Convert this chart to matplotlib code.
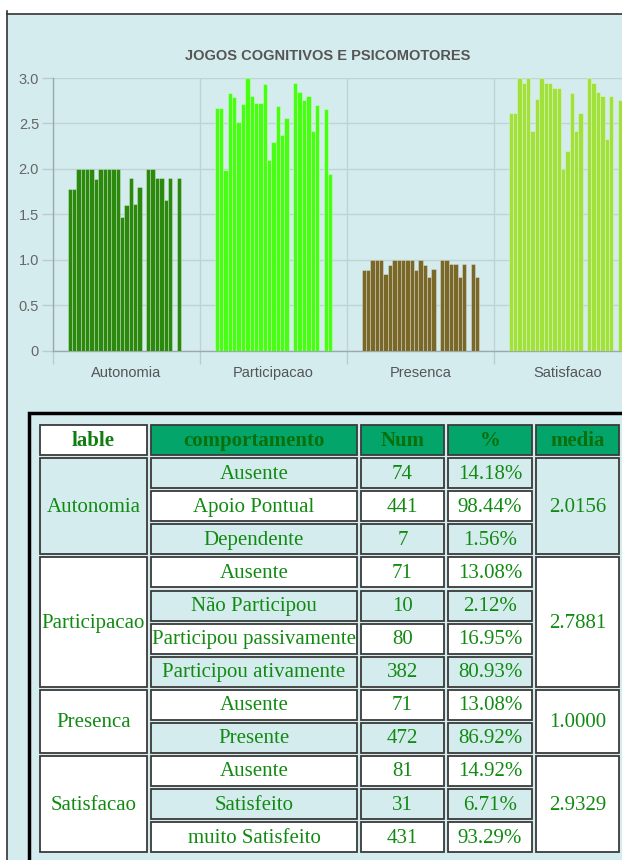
import matplotlib
matplotlib.use('Agg')
import matplotlib.pyplot as plt
from matplotlib.patches import Rectangle
from matplotlib.ticker import FixedLocator

# chart data: one bar per session inside each behaviour group (0 = no value)
categories = ['Autonomia', 'Participacao', 'Presenca', 'Satisfacao']
autonomia = [1.78, 1.78, 2.0, 2.0, 2.0, 2.0, 1.89, 2.0, 2.0, 2.0, 2.0, 2.0, 1.47, 1.6,
             1.9, 1.61, 1.8, 0, 2.0, 2.0, 1.9, 1.9, 1.66, 1.9, 0, 1.9, 0]
participacao = [2.67, 2.67, 1.99, 2.84, 2.79, 2.52, 2.71, 3.0, 2.8, 2.73, 2.73, 2.93, 2.1, 2.29,
                2.69, 2.37, 2.56, 0, 2.94, 2.85, 2.76, 2.8, 2.42, 2.7, 0, 2.66, 1.94]
presenca = [0.89, 0.89, 1.0, 1.0, 1.0, 0.84, 0.94, 1.0, 1.0, 1.0, 1.0, 1.0, 0.89, 1.0,
            0.94, 0.81, 0.9, 0, 1.0, 1.0, 0.95, 0.95, 0.81, 0.95, 0, 0.95, 0.81]
satisfacao = [2.62, 2.62, 3.0, 2.94, 3.0, 2.42, 2.77, 3.0, 2.94, 2.94, 2.89, 2.89, 2.0, 2.2,
              2.84, 2.42, 2.61, 0, 3.0, 2.94, 2.85, 2.8, 2.33, 2.8, 0, 2.76, 2.6]
series = [autonomia, participacao, presenca, satisfacao]
bar_colors = ['#2b8a0e', '#47ff12', '#7a6829', '#a1e13b']
y_ticks = [0, 0.5, 1.0, 1.5, 2.0, 2.5, 3.0]
y_labels = ['0', '0.5', '1.0', '1.5', '2.0', '2.5', '3.0']

# table data
header = ['lable', 'comportamento', 'Num', '%', 'media']
behaviours = [['Ausente', 'Apoio Pontual', 'Dependente'],
              ['Ausente', 'Não Participou', 'Participou passivamente', 'Participou ativamente'],
              ['Ausente', 'Presente'],
              ['Ausente', 'Satisfeito', 'muito Satisfeito']]
counts = [[74, 441, 7], [71, 10, 80, 382], [71, 472], [81, 31, 431]]
percents = [['14.18%', '98.44%', '1.56%'],
            ['13.08%', '2.12%', '16.95%', '80.93%'],
            ['13.08%', '86.92%'],
            ['14.92%', '6.71%', '93.29%']]
medias = ['2.0156', '2.7881', '1.0000', '2.9329']

W, H = 622, 860
CYAN = '#d5ecee'
fig = plt.figure(figsize=(W / 100, H / 100), dpi=100, facecolor='white')

# page layer in pixel coordinates
bg = fig.add_axes([0, 0, 1, 1])
bg.set_xlim(0, W)
bg.set_ylim(H, 0)
bg.axis('off')
bg.add_patch(Rectangle((7, 14), W, H, facecolor=CYAN, edgecolor='none'))
bg.plot([7, W], [14, 14], color='#333333', lw=1.2)
bg.plot([7, 7], [11, H], color='#333333', lw=1.2)

fig.text(328 / W, 1 - 56 / H, 'JOGOS COGNITIVOS E PSICOMOTORES', ha='center', va='center',
         fontsize=10.5, fontweight='bold', color='#555555', family='Liberation Sans')

# chart
ax = fig.add_axes([53 / W, 1 - 350.5 / H, 588 / W, 272.5 / H])
ax.set_facecolor('none')
n = len(autonomia)
slot = 0.8 / n
for k, vals in enumerate(series):
    xs = [k - 0.4 + (j + 0.5) * slot for j in range(n)]
    ax.bar(xs, vals, width=slot, color=bar_colors[k], edgecolor=(1, 1, 1, 0.35),
           linewidth=0.6, zorder=3)
ax.set_xlim(-0.5, len(categories) - 0.5)
ax.set_ylim(0, 3.0)
ax.set_yticks(y_ticks)
ax.set_yticklabels(y_labels)
ax.set_xticks(range(len(categories)))
ax.set_xticklabels(categories)
ax.xaxis.set_minor_locator(FixedLocator([k + 0.5 for k in range(-1, len(categories))]))
ax.tick_params(axis='x', which='major', length=0, pad=11, labelsize=10.5, labelcolor='#555555')
ax.tick_params(axis='x', which='minor', length=9, color='#b9cccd', width=1)
ax.tick_params(axis='y', length=8, color='#b9cccd', width=1, pad=2, labelsize=10.5,
               labelcolor='#666666')
for lab in ax.get_xticklabels() + ax.get_yticklabels():
    lab.set_family('Liberation Sans')
ax.grid(axis='y', color='#bfd3d5', lw=1, zorder=0)
ax.grid(axis='x', which='minor', color='#bfd3d5', lw=1, zorder=0)
ax.grid(axis='x', which='major', visible=False)
for s in ['top', 'right']:
    ax.spines[s].set_visible(False)
for s in ['left', 'bottom']:
    ax.spines[s].set_color('#9aa9aa')
    ax.spines[s].set_linewidth(1)

# table
bg.add_patch(Rectangle((29, 413), 640, 500, facecolor=CYAN, edgecolor='black', lw=2.5))
col_x = [40, 151, 361, 448, 536]
col_w = [107, 206, 83, 84, 83]
pitch, cell_h, top = 33.1, 30, 425
TXT = '#118a11'
serif = 'Liberation Serif'


def cell(x, y, w, h, fill, text, bold=False, color=TXT):
    bg.add_patch(Rectangle((x, y), w, h, facecolor=fill, edgecolor='#3a3a3a', lw=1.3))
    bg.text(x + w / 2, y + h / 2 + 1, text, ha='center', va='center', fontsize=15,
            family=serif, color=color, fontweight='bold' if bold else 'normal')


for c, name in enumerate(header):
    fill = 'white' if c == 0 else '#03a56a'
    cell(col_x[c], top, col_w[c], cell_h, fill, name, bold=True,
         color='#0f7d0f' if c == 0 else '#0a700a')

row = 1
for g, name in enumerate(categories):
    start = row
    for b, beh in enumerate(behaviours[g]):
        fill = CYAN if (row - 1) % 2 == 0 else 'white'
        y = top + pitch * row
        cell(col_x[1], y, col_w[1], cell_h, fill, beh)
        cell(col_x[2], y, col_w[2], cell_h, fill, str(counts[g][b]))
        cell(col_x[3], y, col_w[3], cell_h, fill, percents[g][b])
        row += 1
    fill = CYAN if (start - 1) % 2 == 0 else 'white'
    y0 = top + pitch * start
    h = pitch * (row - start) - (pitch - cell_h)
    cell(col_x[0], y0, col_w[0], h, fill, name)
    cell(col_x[4], y0, col_w[4], h, fill, medias[g])

fig.savefig('out.png', dpi=100, facecolor='white')
